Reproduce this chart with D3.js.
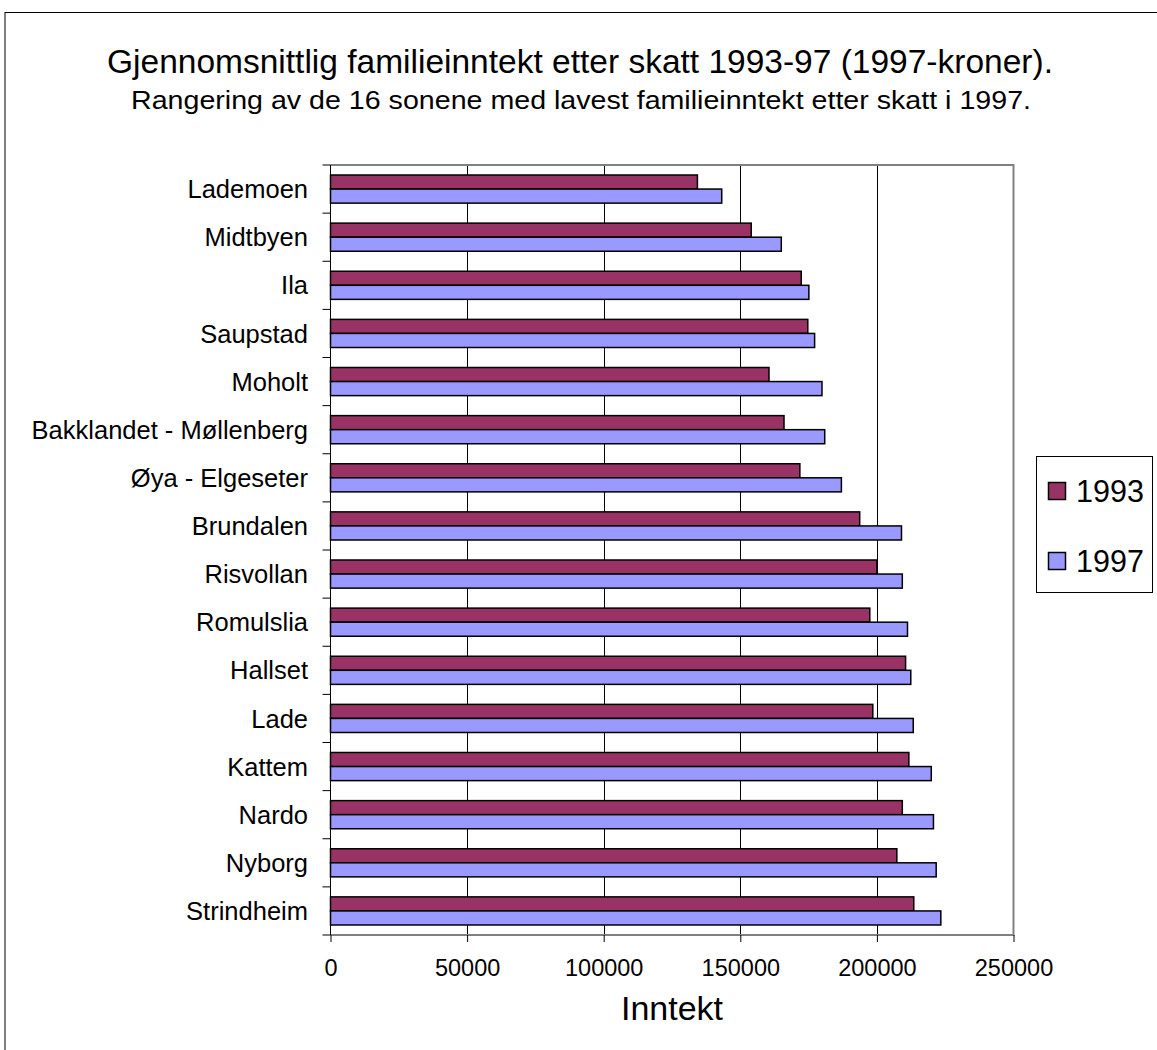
<!DOCTYPE html>
<html>
<head>
<meta charset="utf-8">
<script src="https://cdn.jsdelivr.net/npm/d3@7"></script>
<style>
  html, body { margin: 0; padding: 0; background: #fff; }
  svg { display: block; font-family: "Liberation Sans", Arial, sans-serif; }
</style>
</head>
<body>
<svg id="chart" width="1157" height="1050"></svg>
<script>
// Zones, from lowest 1997 income at top
const zones = [
  "Lademoen", "Midtbyen", "Ila", "Saupstad", "Moholt",
  "Bakklandet - Møllenberg", "Øya - Elgeseter", "Brundalen", "Risvollan",
  "Romulslia", "Hallset", "Lade", "Kattem", "Nardo", "Nyborg", "Strindheim"
];
const years = ["1993", "1997"];
// Average family income after tax (1997 kroner)
const income1993 = [
  134300, 154000, 172300, 174700, 160500,
  166000, 171800, 193700, 200000,
  197400, 210500, 198500, 211700, 209300, 207300, 213500
];
const income1997 = [
  143200, 165000, 175100, 177200, 179900,
  180900, 187000, 209000, 209300,
  211200, 212400, 213300, 219900, 220700, 221700, 223400
];
const xTicks = [0, 50000, 100000, 150000, 200000, 250000];
const colors = { "1993": "#993366", "1997": "#9999FF" };

const rows = zones.map((z, i) => ({ zone: z, values: { "1993": income1993[i], "1997": income1997[i] } }));

const svg = d3.select("#chart");
const plot = { left: 330.5, right: 1013.5, top: 165, bottom: 935 };

// Outer frame
svg.append("rect")
  .attr("x", 5).attr("y", 12.5).attr("width", 1160).attr("height", 1060)
  .attr("fill", "none").attr("stroke", "#000").attr("stroke-width", 1);

// Titles
svg.append("text")
  .attr("x", 580).attr("y", 73)
  .attr("text-anchor", "middle").attr("font-size", 33.5).attr("fill", "#000")
  .text("Gjennomsnittlig familieinntekt etter skatt 1993-97 (1997-kroner).");
svg.append("text")
  .attr("x", 581).attr("y", 109)
  .attr("text-anchor", "middle").attr("font-size", 26.5).attr("fill", "#000")
  .attr("textLength", 900).attr("lengthAdjust", "spacingAndGlyphs")
  .text("Rangering av de 16 sonene med lavest familieinntekt etter skatt i 1997.");

const x = d3.scaleLinear().domain([0, 250000]).range([plot.left, plot.right]);
const y = d3.scaleBand().domain(zones).range([plot.top, plot.bottom])
  .paddingInner(0.4156).paddingOuter(0.2078);
const ySub = d3.scaleBand().domain(years).range([0, y.bandwidth()]);

// Gridlines
svg.append("g").selectAll("line")
  .data(xTicks.filter(t => t > 0 && t < 250000))
  .join("line")
  .attr("x1", d => Math.round(x(d)) + 0.5).attr("x2", d => Math.round(x(d)) + 0.5)
  .attr("y1", plot.top).attr("y2", plot.bottom)
  .attr("stroke", "#000").attr("stroke-width", 1);

// Plot border (top, right, bottom)
svg.append("path")
  .attr("d", `M${plot.left},${plot.top}H${plot.right}V${plot.bottom}H${plot.left}`)
  .attr("fill", "none").attr("stroke", "#808080").attr("stroke-width", 2);

// Bars
const groups = svg.append("g").selectAll("g")
  .data(rows).join("g")
  .attr("transform", d => `translate(0,${y(d.zone)})`);
groups.selectAll("rect")
  .data(d => years.map(k => ({ key: k, value: d.values[k] })))
  .join("rect")
  .attr("x", x(0))
  .attr("y", d => ySub(d.key))
  .attr("width", d => x(d.value) - x(0))
  .attr("height", ySub.bandwidth())
  .attr("fill", d => colors[d.key])
  .attr("stroke", "#000").attr("stroke-width", 1.5);

// Y axis: category labels with ticks on band boundaries
const yAxis = svg.append("g");
yAxis.append("line")
  .attr("x1", plot.left).attr("x2", plot.left)
  .attr("y1", plot.top).attr("y2", plot.bottom)
  .attr("stroke", "#000").attr("stroke-width", 1);
const step = y.step();
yAxis.selectAll("line.tick")
  .data(d3.range(zones.length + 1))
  .join("line").attr("class", "tick")
  .attr("x1", plot.left - 8).attr("x2", plot.left)
  .attr("y1", i => plot.top + i * step).attr("y2", i => plot.top + i * step)
  .attr("stroke", "#000").attr("stroke-width", 1);
yAxis.selectAll("text")
  .data(zones).join("text")
  .attr("x", 308)
  .attr("y", d => y(d) + y.bandwidth() / 2)
  .attr("dy", "0.36em")
  .attr("text-anchor", "end").attr("font-size", 25.5).attr("fill", "#000")
  .text(d => d);

// X axis
const xAxis = svg.append("g")
  .attr("transform", `translate(0,${plot.bottom})`)
  .call(d3.axisBottom(x).tickValues(xTicks).tickFormat(d3.format("d")).tickSize(7).tickSizeOuter(0));
xAxis.select(".domain").remove();
xAxis.selectAll(".tick line").attr("stroke", "#000");
xAxis.selectAll(".tick text")
  .attr("font-family", "Liberation Sans, Arial, sans-serif")
  .attr("font-size", 23.5).attr("fill", "#000").attr("y", 24).attr("dy", "0.71em");

svg.append("text")
  .attr("x", (plot.left + plot.right) / 2).attr("y", 1020)
  .attr("text-anchor", "middle").attr("font-size", 34).attr("fill", "#000")
  .text("Inntekt");

// Legend
const legend = svg.append("g");
legend.append("rect")
  .attr("x", 1036.5).attr("y", 456.5).attr("width", 116).attr("height", 136)
  .attr("fill", "#fff").attr("stroke", "#000").attr("stroke-width", 1);
const legendY = d3.scalePoint().domain(years).range([491, 561]);
legend.selectAll("rect.sw")
  .data(years).join("rect").attr("class", "sw")
  .attr("x", 1048.5).attr("y", d => legendY(d) - 8.5)
  .attr("width", 17).attr("height", 17)
  .attr("fill", d => colors[d]).attr("stroke", "#000").attr("stroke-width", 1.5);
legend.selectAll("text")
  .data(years).join("text")
  .attr("x", 1076).attr("y", d => legendY(d))
  .attr("dy", "0.36em").attr("font-size", 30.5).attr("fill", "#000")
  .text(d => d);
</script>
</body>
</html>
